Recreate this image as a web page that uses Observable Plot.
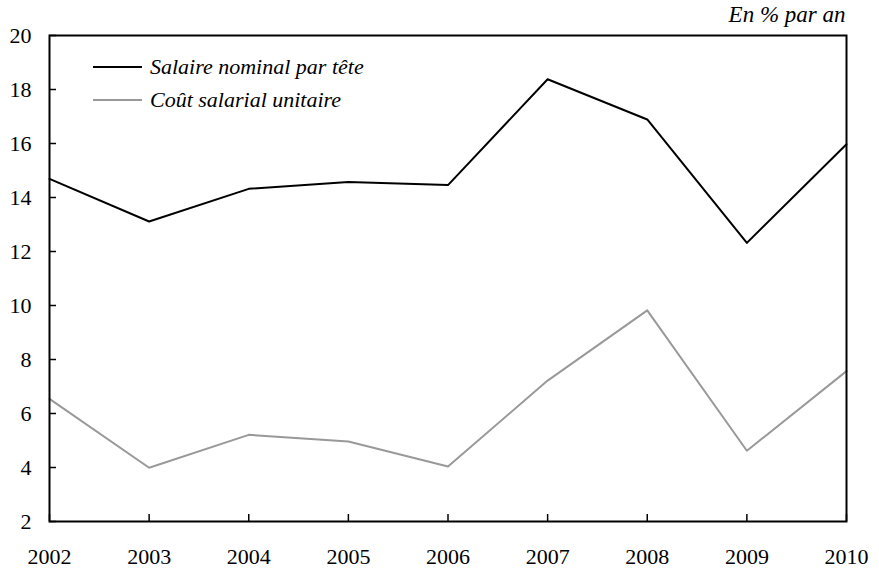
<!DOCTYPE html>
<html>
<head>
<meta charset="utf-8">
<script src="https://cdn.jsdelivr.net/npm/d3@7"></script>
<script src="https://cdn.jsdelivr.net/npm/@observablehq/plot@0.6"></script>
<style>
  html, body { margin: 0; padding: 0; background: white; }
  #wrap { position: relative; width: 879px; height: 573px; font-family: "Liberation Serif", "Times New Roman", Times, "DejaVu Serif", serif; }
  .legend { position: absolute; left: 93px; top: 50px; font-style: italic; font-size: 22px; }
  .legend .row { display: flex; align-items: center; height: 33.4px; }
  .legend .sw { width: 49px; height: 0; border-top: 2px solid; margin-right: 8px; }
</style>
</head>
<body>
<div id="wrap"></div>
<script>
const years = [2002, 2003, 2004, 2005, 2006, 2007, 2008, 2009, 2010];
const salaireNominal = [14.69, 13.11, 14.32, 14.57, 14.46, 18.38, 16.89, 12.32, 15.97];
const coutUnitaire = [6.54, 3.99, 5.21, 4.96, 4.04, 7.22, 9.82, 4.62, 7.57];
const seriesNames = ["Salaire nominal par tête", "Coût salarial unitaire"];
const seriesColors = ["#000000", "#999999"];
const yTicks = [2, 4, 6, 8, 10, 12, 14, 16, 18, 20];
const unitLabel = "En % par an";

const data = [];
years.forEach((y, i) => data.push({year: y, value: salaireNominal[i], series: seriesNames[0]}));
years.forEach((y, i) => data.push({year: y, value: coutUnitaire[i], series: seriesNames[1]}));

const chart = Plot.plot({
  width: 879,
  height: 573,
  marginLeft: 49,
  marginRight: 33,
  marginTop: 35,
  marginBottom: 52,
  style: {fontFamily: "'Liberation Serif', 'Times New Roman', serif", fontSize: "22px", background: "white", color: "black", overflow: "visible"},
  x: {domain: [2002, 2010], ticks: years, tickFormat: d3.format("d")},
  y: {domain: [2, 20], ticks: yTicks},
  color: {domain: seriesNames, range: seriesColors},
  marks: [
    Plot.axisX({ticks: years, tickFormat: d3.format("d"), tickSize: -7, tickPadding: 34, label: null, strokeWidth: 1.5}),
    Plot.axisY({ticks: yTicks, tickSize: -7, tickPadding: 25, label: null, strokeWidth: 1.5}),
    Plot.line(data, {x: "year", y: "value", z: "series", stroke: "series", strokeWidth: 2}),
    Plot.frame({stroke: "black", strokeWidth: 2}),
    Plot.text([unitLabel], {frameAnchor: "top-right", text: d => d, textAnchor: "end", lineAnchor: "middle", dy: -21, dx: -1, fontStyle: "italic", fontSize: 23})
  ]
});

const wrap = document.getElementById("wrap");
wrap.appendChild(chart);
const legend = document.createElement("div");
legend.className = "legend";
seriesNames.forEach((name, i) => {
  const row = document.createElement("div");
  row.className = "row";
  const sw = document.createElement("span");
  sw.className = "sw";
  sw.style.borderColor = seriesColors[i];
  const t = document.createElement("span");
  t.textContent = name;
  row.appendChild(sw);
  row.appendChild(t);
  legend.appendChild(row);
});
wrap.appendChild(legend);
</script>
</body>
</html>
